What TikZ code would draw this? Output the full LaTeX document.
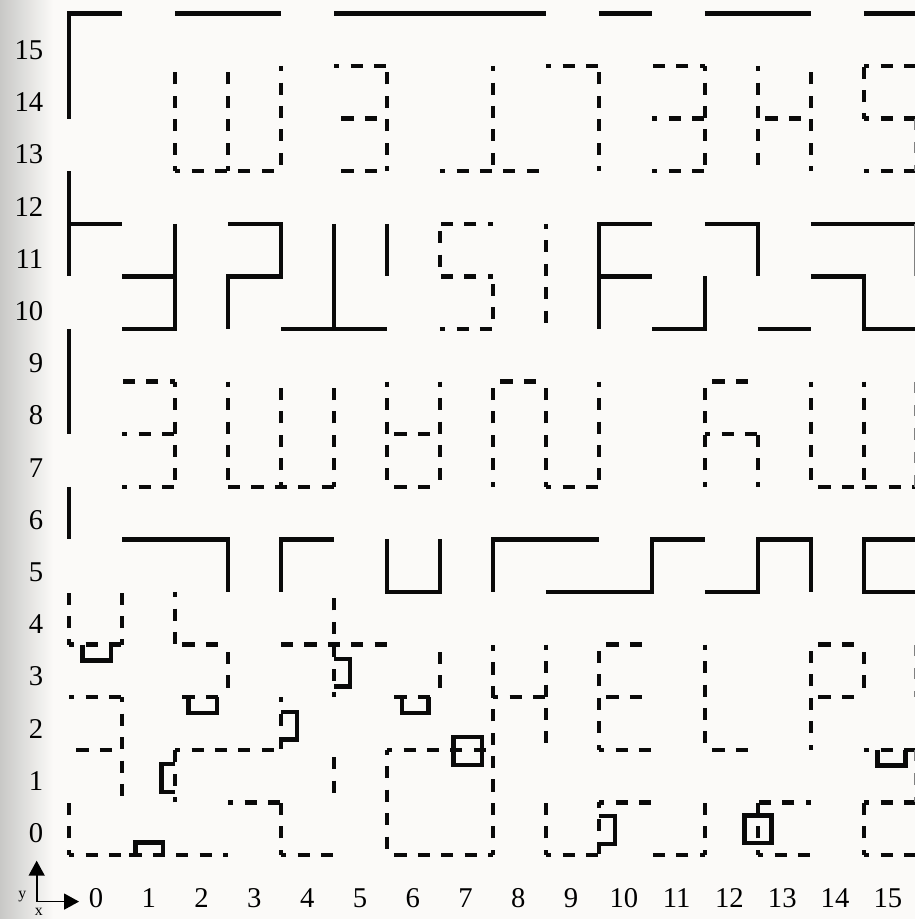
\documentclass[tikz,border=0pt]{standalone}
\usepackage{fontspec}
\setmainfont{Liberation Serif}
\usetikzlibrary{arrows.meta}
\definecolor{paper}{HTML}{FBFAF8}
\definecolor{inkwall}{HTML}{0A0A0A}
\definecolor{pageshadow}{HTML}{C8C8C6}
\tikzset{
    wall/.style={line width=2.6pt, inkwall},
    walldash/.style={line width=2.6pt, inkwall, dash pattern=on 6.9pt off 6.42pt},
    walldot/.style={walldash, dash phase=3.9pt},
    wallgap/.style={walldash, dash phase=9.1pt},
    edgewall/.style={wall, black!50, line width=1.5pt},
    gridlabel/.style={font=\fontsize{16.3}{18}\selectfont, inner sep=0pt, text=black},
    axislabel/.style={font=\fontsize{9}{10}\selectfont, inner sep=0pt, text=black}
}
\begin{document}
\begin{tikzpicture}[x=1.06cm, y=1.052cm]
    % Paper and scanner shadow
    \fill[paper] (-1.302,-1.217) rectangle (15.962,16.255);
    \shade[left color=pageshadow, right color=paper] (-1.302,-1.217) rectangle (-0.3,16.255);
    \useasboundingbox (-1.302,-1.217) rectangle (15.962,16.255);

    % Outer wall
    \draw[wall] (1,16) -- (0,16) -- (0,14);
    \draw[wall] (0,13) -- (0,11);
    \draw[wall] (0,10) -- (0,8);
    \draw[wall] (0,7) -- (0,6);
    \draw[wall] (2,16) -- (4,16);
    \draw[wall] (5,16) -- (9,16);
    \draw[wall] (10,16) -- (11,16);
    \draw[wall] (12,16) -- (14,16);
    \draw[wall] (15,16) -- (16,16);

    % Solid band, rows 10 to 12
    \draw[wall] (0,12) -- (1,12);
    \draw[wall] (1,11) -- (2,11);
    \draw[wall] (2,12) -- (2,10) -- (1,10);
    \draw[wall] (3,12) -- (4,12) -- (4,11) -- (3,11) -- (3,10);
    \draw[wall] (5,12) -- (5,10);
    \draw[wall] (4,10) -- (6,10);
    \draw[wall] (6,12) -- (6,11);
    \draw[wall] (11,12) -- (10,12) -- (10,10);
    \draw[wall] (10,11) -- (11,11);
    \draw[wall] (12,11) -- (12,10) -- (11,10);
    \draw[wall] (12,12) -- (13,12) -- (13,11);
    \draw[wall] (13,10) -- (14,10);
    \draw[wall] (14,12) -- (16,12);
    \draw[wall] (14,11) -- (15,11) -- (15,10) -- (16,10);

    % Solid band, rows 5 and 6
    \draw[wall] (1,6) -- (3,6) -- (3,5);
    \draw[wall] (5,6) -- (4,6) -- (4,5);
    \draw[wall] (6,6) -- (6,5) -- (7,5) -- (7,6);
    \draw[wall] (8,5) -- (8,6) -- (10,6);
    \draw[wall] (9,5) -- (11,5) -- (11,6) -- (12,6);
    \draw[wall] (12,5) -- (13,5) -- (13,6) -- (14,6) -- (14,5);
    \draw[wall] (16,6) -- (15,6) -- (15,5) -- (16,5);

    % Small solid notches
    \draw[wall] (0.26,4) -- (0.26,3.7) -- (0.79,3.7) -- (0.79,4);
    \draw[wall] (2.25,3) -- (2.25,2.7) -- (2.79,2.7) -- (2.79,3);
    \draw[wall] (6.28,3) -- (6.28,2.7) -- (6.78,2.7) -- (6.78,3);
    \draw[wall] (15.25,2) -- (15.25,1.7) -- (15.78,1.7) -- (15.78,2);
    \draw[wall] (5,3.73) -- (5.3,3.73) -- (5.3,3.2) -- (5,3.2);
    \draw[wall] (4,2.72) -- (4.3,2.72) -- (4.3,2.2) -- (4,2.2);
    \draw[wall] (10,0.74) -- (10.3,0.74) -- (10.3,0.21) -- (10,0.21);
    \draw[wall] (2,1.73) -- (1.75,1.73) -- (1.75,1.2) -- (2,1.2);
    \draw[wall] (1.25,0) -- (1.25,0.24) -- (1.77,0.24) -- (1.77,0);
    \draw[wall] (7.25,1.71) rectangle (7.79,2.24);
    \draw[wall] (12.75,0.23) rectangle (13.25,0.75);

    % Dashed walls that open on a short stub
    \foreach \xa/\ya/\xb/\yb in {
        2/13/2/15, 2/13/4/13, 3/13/3/15, 4/15/4/13, 5/15/6/15, 6/13/6/15,
        7/13/9/13, 8/15/8/13, 9/15/10/15, 10/13/10/15,
        12/15/11/15, 12/15/12/13, 11/14/12/14, 11/13/12/13,
        13/15/13/13, 14/13/14/15, 15/14/15/15, 15/15/16/15, 15/14/16/14, 15/13/16/13,
        9/12/9/10, 8/12/7/12, 8/11/7/11, 7/10/8/10,
        2/9/1/9, 2/9/2/7, 1/8/2/8, 1/7/2/7,
        3/9/3/7, 4/7/4/9, 5/7/5/9, 6/9/6/7, 7/9/7/7,
        8/7/8/9, 9/7/9/9, 9/7/10/7, 10/9/10/7,
        12/7/12/9, 12/8/13/8, 13/7/13/8, 14/9/14/7, 15/9/15/7,
        0/4/0/5, 1/4/1/5, 0/4/1/4, 2/5/2/4, 5/3/5/5, 0/3/1/3, 1/3/1/1,
        4/3/4/2, 2/2/4/2, 2/1/2/2, 6/2/8/2, 6/2/6/0,
        8/0/8/4, 9/4/9/2, 8/3/9/3, 10/2/10/4, 10/2/11/2, 12/4/12/2,
        14/2/14/4, 15/2/16/2,
        0/0/0/1, 0/0/1/0, 3/1/4/1, 4/0/4/1, 4/0/5/0,
        9/0/9/1, 9/0/10/0, 10/1/11/1, 10/1/10/0, 12/0/12/1, 12/0/11/0,
        14/1/13/1, 13/0/13/1, 13/0/14/0, 15/1/16/1, 15/0/15/1, 15/0/16/0}
        \draw[walldot] (\xa,\ya) -- (\xb,\yb);

    % Dashed walls that open on a gap
    \foreach \xa/\ya/\xb/\yb in {
        5/14/6/14, 5/13/6/13, 13/14/14/14,
        7/12/7/11, 8/11/8/10, 6/8/7/8, 6/7/7/7, 8/9/9/9, 12/9/13/9, 14/7/16/7,
        2/4/3/4, 3/4/3/3, 7/4/7/3, 2/3/3/3, 6/3/7/3, 0/2/1/2, 5/2/5/1,
        10/4/11/4, 10/3/11/3, 12/2/13/2, 14/4/15/4, 14/3/15/3, 15/4/15/3,
        1/0/3/0, 6/0/8/0}
        \draw[wallgap] (\xa,\ya) -- (\xb,\yb);

    \draw[walldash] (4,4) -- (6,4);
    \draw[walldash] (3,7) -- (5,7);

    % Walls at the page edge
    \draw[edgewall] (15.975,12) -- (15.975,11);
    \draw[edgewall, dash pattern=on 6.52pt off 6.8pt] (15.975,14) -- (15.975,13);
    \draw[edgewall, dash pattern=on 6.52pt off 6.8pt] (15.975,9) -- (15.975,7);
    \draw[edgewall, dash pattern=on 6.52pt off 6.8pt] (15.975,4) -- (15.975,3);
    \draw[edgewall, dash pattern=on 6.52pt off 6.8pt] (15.975,2) -- (15.975,1);

    % Row and column numbers
    \foreach \j in {0,...,15} {
        \node[gridlabel, anchor=east] (rowlabel\j) at (-0.48, {0.42+0.992*\j}) {\j};
    }
    \foreach \i in {0,...,15} {
        \node[gridlabel] (collabel\i) at ({0.51+0.996*\i}, -0.82) {\i};
    }

    % Axes
    \coordinate (origin) at (-0.61,-0.886);
    \coordinate (ytip) at (-0.61,-0.108);
    \coordinate (xtip) at (0.19,-0.886);
    \draw[line width=1pt, -{Triangle[length=8.5pt,width=9pt]}] (origin) -- (ytip);
    \draw[line width=1pt, -{Triangle[length=8.5pt,width=9pt]}] (origin) -- (xtip);
    \node[axislabel] (ylabel) at (-0.88,-0.80) {y};
    \node[axislabel] (xlabel) at (-0.57,-1.09) {x};
\end{tikzpicture}
\end{document}
